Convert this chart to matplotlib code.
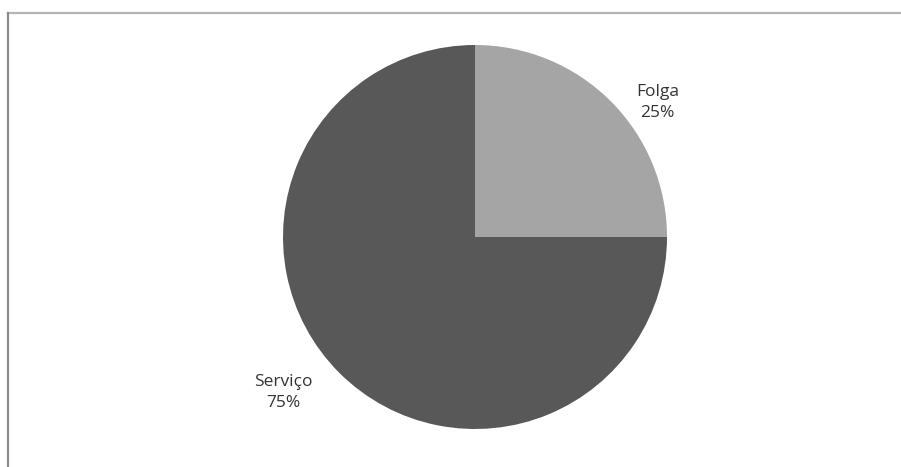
import matplotlib.pyplot as plt
from matplotlib.lines import Line2D

labels = ["Folga", "Serviço"]
shares = [25, 75]
colors = ["#a5a5a5", "#585858"]

W, H = 901, 467
fig = plt.figure(figsize=(W / 100, H / 100), dpi=100)
fig.patch.set_facecolor("white")

# pie centred at (475, 237) px with a 192 px radius
cx, cy, r = 475, 237, 192
ax = fig.add_axes([(cx - r) / W, (H - cy - r) / H, 2 * r / W, 2 * r / H])
ax.pie(shares, colors=colors, startangle=90, counterclock=False, radius=1,
       wedgeprops=dict(linewidth=0))
ax.set_xlim(-1, 1)
ax.set_ylim(-1, 1)
ax.set_aspect("equal")
ax.axis("off")

# label positions relative to the pie centre, in radius units
label_pos = [(0.95, 0.70), (-1.0, -0.81)]
for name, val, (x, y) in zip(labels, shares, label_pos):
    ax.text(x, y, f"{name}\n{val}%", ha="center", va="center",
            fontsize=12.5, color="#333333", family="Open Sans",
            linespacing=1.35, clip_on=False)

# thin frame along the top and left edges
fig.add_artist(Line2D([8 / W, 1], [1 - 12.5 / H] * 2, color="#b4b4b4", lw=1.6,
                      transform=fig.transFigure))
fig.add_artist(Line2D([8 / W] * 2, [0, 1 - 12.5 / H], color="#8c8c8c", lw=1.6,
                      transform=fig.transFigure))

fig.savefig("out.png", dpi=100)
